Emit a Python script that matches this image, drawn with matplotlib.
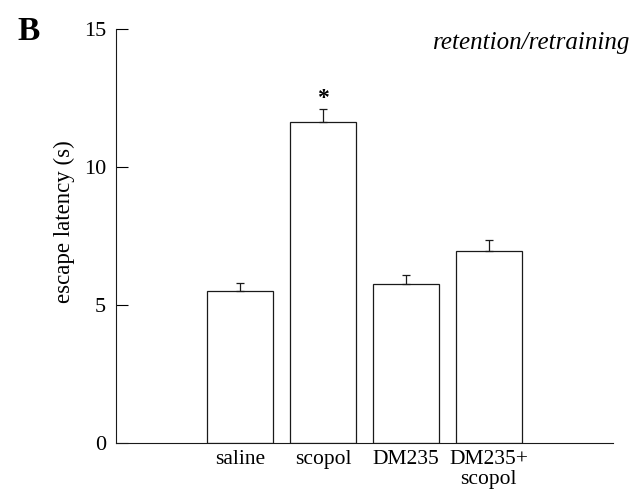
import matplotlib
matplotlib.use('Agg')
import matplotlib.pyplot as plt
import numpy as np

# dane
groups = ['saline', 'scopol', 'DM235', 'DM235+\nscopol']
latency = [5.52, 11.63, 5.77, 6.97]
sem = [0.27, 0.48, 0.31, 0.39]
yticks = [0, 5, 10, 15]

plt.rcParams['font.family'] = ['Liberation Serif', 'DejaVu Serif']

fig = plt.figure(figsize=(6.34, 4.95), dpi=100)
ax = fig.add_axes([116/634, 1-443/495, 497/634, 414/495])

x = np.arange(len(groups))
ax.bar(x, latency, width=0.8, color='white', edgecolor='#1a1a1a', linewidth=0.9)
# tylko gorne wasy bledu
ax.errorbar(x, latency, yerr=[np.zeros(len(sem)), sem], fmt='none',
            ecolor='#1a1a1a', elinewidth=0.9, capsize=3, capthick=0.9)

# gwiazdka nad scopol
ax.text(x[1], latency[1] + sem[1] - 0.02, '*', ha='center', va='bottom',
        fontsize=17, fontweight='bold')

ax.set_xlim(-1.5, 4.5)
ax.set_ylim(0, 15)
ax.set_yticks(yticks)
ax.set_xticks(x)
ax.set_xticklabels(groups, fontsize=15.5, linespacing=1.1)
ax.tick_params(axis='y', direction='in', length=8.5, width=0.8, pad=7, labelsize=16)
ax.tick_params(axis='x', length=0, pad=5)

for s in ['top', 'right']:
    ax.spines[s].set_visible(False)
for s in ['left', 'bottom']:
    ax.spines[s].set_linewidth(0.8)
    ax.spines[s].set_color('#1a1a1a')

ax.set_ylabel('escape latency (s)', fontsize=16.5)
ax.yaxis.set_label_coords(-0.083, 0.534)

fig.text(0.995, 1-43/495, 'retention/retraining', ha='right', va='center',
         fontsize=18, style='italic')
fig.text(29/634, 1-31/495, 'B', ha='center', va='center',
         fontsize=24, fontweight='bold')

fig.savefig('out.png', dpi=100)
